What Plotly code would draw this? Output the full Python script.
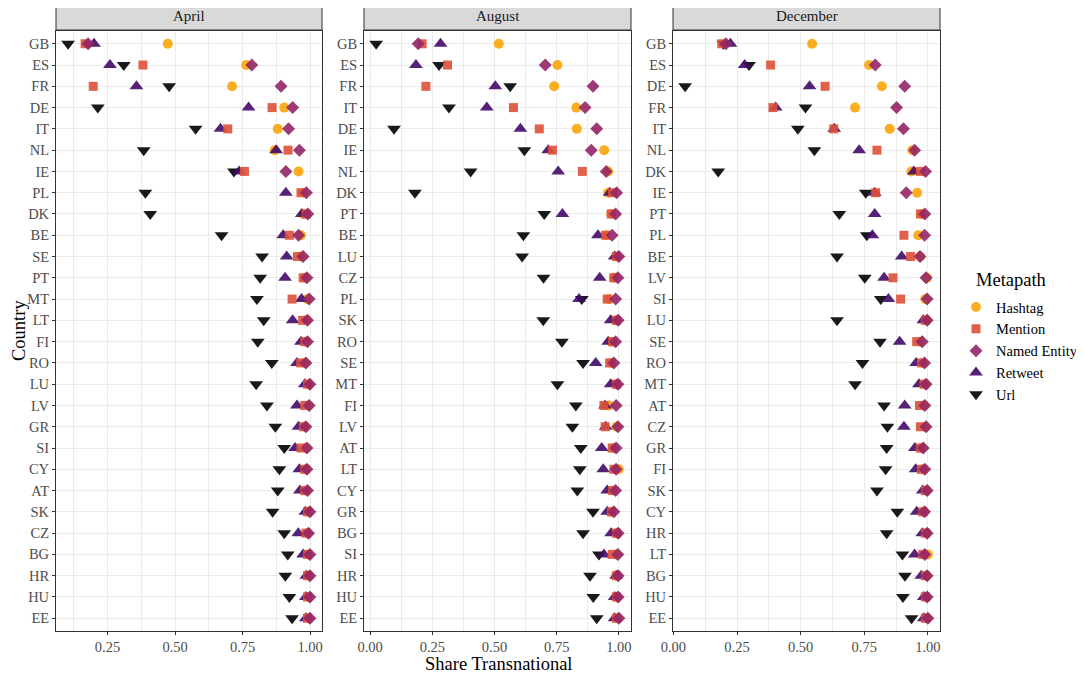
import plotly.graph_objects as go

# country order per month (top to bottom)
countries_apr = ["GB", "ES", "FR", "DE", "IT", "NL", "IE", "PL", "DK", "BE", "SE", "PT", "MT", "LT",
                 "FI", "RO", "LU", "LV", "GR", "SI", "CY", "AT", "SK", "CZ", "BG", "HR", "HU", "EE"]
countries_aug = ["GB", "ES", "FR", "IT", "DE", "IE", "NL", "DK", "PT", "BE", "LU", "CZ", "PL", "SK",
                 "RO", "SE", "MT", "FI", "LV", "AT", "LT", "CY", "GR", "BG", "SI", "HR", "HU", "EE"]
countries_dec = ["GB", "ES", "DE", "FR", "IT", "NL", "DK", "IE", "PT", "PL", "BE", "LV", "SI", "LU",
                 "SE", "RO", "MT", "AT", "CZ", "GR", "FI", "SK", "CY", "HR", "LT", "BG", "HU", "EE"]

# April
apr_hashtag = [.473, .763, .711, .904, .88, .869, .957, .975, .975, .966, .965, .98, .99, .985,
               .985, .98, .995, .995, .98, .985, .985, .985, .995, .99, .995, .995, .995, .995]
apr_mention = [.167, .381, .197, .859, .695, .918, .757, .966, .985, .923, .953, .974, .933, .972,
               .98, .965, .99, .98, .975, .966, .98, .98, .99, .985, .99, .99, .99, .99]
apr_named = [.178, .784, .892, .935, .92, .96, .91, .986, .991, .957, .974, .988, .996, .99,
             .99, .984, .999, .996, .984, .988, .988, .99, .999, .994, .999, .999, .999, .999]
apr_retweet = [.20, .259, .357, .772, .668, .874, .737, .91, .969, .90, .913, .907, .968, .935,
               .966, .951, .98, .951, .957, .944, .96, .962, .982, .956, .974, .986, .984, .984]
apr_url = [.104, .31, .478, .214, .576, .384, .718, .39, .408, .672, .822, .815, .803, .828,
           .806, .858, .80, .84, .871, .904, .886, .88, .861, .904, .917, .908, .923, .933]

# August
aug_hashtag = [.517, .753, .74, .829, .831, .941, .957, .957, .97, .95, .99, .98, .96, .99,
               .97, .97, .99, .96, .99, .98, 1.0, .98, .97, .99, .99, .99, .99, .995]
aug_mention = [.209, .311, .224, .576, .68, .733, .853, .975, .969, .947, .99, .98, .953, .99,
               .975, .963, .99, .94, .945, .973, .98, .975, .97, .99, .973, .99, .99, .99]
aug_named = [.193, .704, .896, .864, .911, .889, .949, .991, .987, .973, 1.0, .996, .987, .997,
             .987, .98, .996, .989, .996, .989, .989, .987, .98, .997, .996, .997, .997, 1.0]
aug_retweet = [.283, .184, .503, .469, .604, .716, .756, .963, .773, .916, .983, .923, .84, .967,
               .957, .907, .967, .944, .947, .931, .937, .953, .953, .969, .94, .989, .983, .983]
aug_url = [.024, .277, .563, .317, .096, .62, .404, .18, .70, .616, .611, .697, .851, .696,
           .771, .856, .753, .827, .813, .847, .843, .833, .896, .856, .92, .884, .897, .911]

# December
dec_hashtag = [.545, .769, .819, .714, .85, .939, .935, .958, .975, .962, .97, .997, .99, .995,
               .97, .98, .99, .985, .99, .975, .98, .995, .985, .995, 1.0, .995, .995, .995]
dec_mention = [.19, .382, .596, .391, .63, .80, .971, .795, .971, .906, .932, .863, .893, .99,
               .956, .975, .985, .967, .971, .97, .975, .99, .98, .99, .98, .99, .99, .99]
dec_named = [.206, .793, .909, .877, .904, .948, .991, .915, .988, .987, .969, .993, .997, .997,
             .978, .987, .993, .988, .993, .982, .988, .997, .987, .997, .988, .997, .997, 1.0]
dec_retweet = [.224, .28, .535, .402, .632, .73, .945, .791, .791, .782, .897, .828, .845, .982,
               .889, .954, .965, .909, .906, .949, .952, .98, .956, .978, .948, .974, .984, .984]
dec_url = [.196, .297, .046, .519, .489, .554, .176, .756, .652, .76, .643, .752, .815, .643,
           .812, .743, .714, .828, .841, .838, .834, .80, .88, .838, .90, .91, .902, .936]

months = ["April", "August", "December"]
panels = [
    (countries_apr, {"Hashtag": apr_hashtag, "Mention": apr_mention, "Named Entity": apr_named,
                     "Retweet": apr_retweet, "Url": apr_url}),
    (countries_aug, {"Hashtag": aug_hashtag, "Mention": aug_mention, "Named Entity": aug_named,
                     "Retweet": aug_retweet, "Url": aug_url}),
    (countries_dec, {"Hashtag": dec_hashtag, "Mention": dec_mention, "Named Entity": dec_named,
                     "Retweet": dec_retweet, "Url": dec_url}),
]

style = {
    "Hashtag": ("#FCA50A", "circle", 10, 1),
    "Mention": ("#DD513A", "square", 9, 2),
    "Named Entity": ("#932667", "diamond", 10, 3),
    "Retweet": ("#420A68", "triangle-up", 12, 4),
    "Url": ("#000004", "triangle-down", 12, 5),
}
draw_order = ["Url", "Hashtag", "Retweet", "Mention", "Named Entity"]

# the page body has an 8px margin, so the figure starts at (8, 8) in the window
OFF = 8
W, H = 1084 - OFF, 674 - OFF


def px(x):
    return (x - OFF) / W


def py(y):
    return 1 - (y - OFF) / H


x_px = [(56, 322), (364, 631), (673, 940)]
y_top, y_bot = 31, 631
serif = "Liberation Serif"
tick_font = dict(family=serif, size=14.5, color="#4D4D4D")

fig = go.Figure()
for i, (countries, series) in enumerate(panels):
    n = str(i + 1) if i else ""
    for name in draw_order:
        col, sym, size, rank = style[name]
        fig.add_trace(go.Scatter(
            x=series[name], y=countries, mode="markers", name=name,
            xaxis="x" + n, yaxis="y" + n,
            marker=dict(color=col, symbol=sym, size=size, opacity=0.9),
            legendgroup=name, showlegend=(i == 0), legendrank=rank,
        ))

    allv = [v for s in series.values() for v in s]
    lo, hi = min(allv), max(allv)
    pad = 0.05 * (hi - lo)
    x0, x1 = x_px[i]
    fig.update_layout(**{
        "xaxis" + n: dict(
            domain=[px(x0), px(x1)], range=[lo - pad, hi + pad], anchor="y" + n,
            automargin=False,
            tickvals=[0, 0.25, 0.5, 0.75, 1.0], tickformat=".2f",
            showgrid=True, gridcolor="#EBEBEB", gridwidth=1.2,
            minor=dict(dtick=0.125, tick0=0, showgrid=True, gridcolor="#EBEBEB", gridwidth=0.6),
            zeroline=False, showline=True, mirror=True, linecolor="#333333", linewidth=1,
            ticks="outside", ticklen=3, tickcolor="#333333",
            tickfont=tick_font,
        ),
        "yaxis" + n: dict(
            domain=[py(y_bot), py(y_top)], anchor="x" + n,
            automargin=False,
            type="category", categoryorder="array", categoryarray=countries,
            range=[len(countries) - 0.4, -0.6],
            showgrid=True, gridcolor="#EBEBEB", gridwidth=1.2, zeroline=False,
            showline=True, mirror=True, linecolor="#333333", linewidth=1,
            ticks="outside", ticklen=3, tickcolor="#333333",
            tickfont=tick_font,
        ),
    })
    # facet strip
    fig.add_shape(type="rect", xref="paper", yref="paper",
                  x0=px(x0), x1=px(x1), y0=py(30), y1=py(2),
                  fillcolor="#D9D9D9", line=dict(color="#333333", width=1))
    fig.add_annotation(text=months[i], xref="paper", yref="paper",
                       x=px((x0 + x1) / 2), y=py(16), showarrow=False,
                       xanchor="center", yanchor="middle",
                       font=dict(family=serif, size=15, color="#1A1A1A"))

fig.add_annotation(text="Share Transnational", xref="paper", yref="paper",
                   x=px(498), y=py(664), showarrow=False,
                   xanchor="center", yanchor="middle",
                   font=dict(family=serif, size=18.5, color="black"))
fig.add_annotation(text="Country", xref="paper", yref="paper",
                   x=px(19), y=py(331), showarrow=False, textangle=-90,
                   xanchor="center", yanchor="middle",
                   font=dict(family=serif, size=18.5, color="black"))
fig.add_annotation(text="Metapath", xref="paper", yref="paper",
                   x=px(974), y=py(280), showarrow=False,
                   xanchor="left", yanchor="middle",
                   font=dict(family=serif, size=18.5, color="black"))

fig.update_layout(
    width=W, height=H,
    margin=dict(l=0, r=0, t=0, b=0, autoexpand=False),
    paper_bgcolor="white", plot_bgcolor="white",
    font=dict(family=serif),
    legend=dict(
        font=dict(family=serif, size=14.5, color="black"),
        x=px(956), y=py(291), xanchor="left", yanchor="top",
        bgcolor="rgba(0,0,0,0)", tracegroupgap=0, itemwidth=30,
    ),
)

fig.write_html("out.html")
